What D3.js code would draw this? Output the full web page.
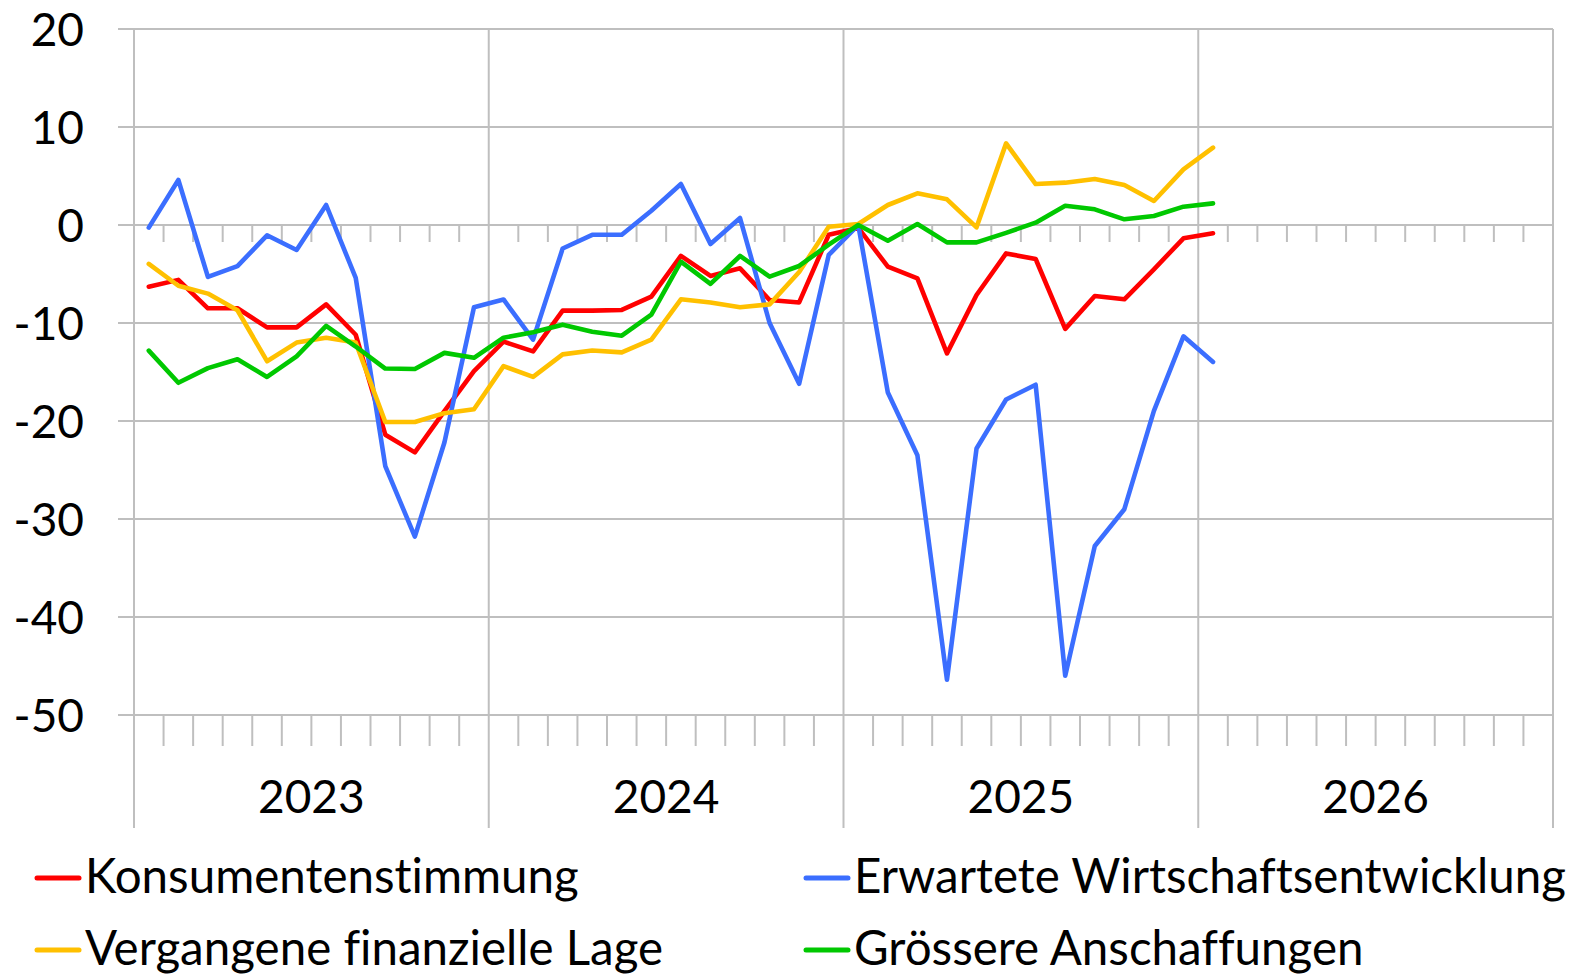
<!DOCTYPE html>
<html>
<head>
<meta charset="utf-8">
<script src="https://cdn.jsdelivr.net/npm/d3@7"></script>
<style>
    html, body { margin: 0; padding: 0; background: #fff; }
    svg { display: block; }
    text { font-family: Lato, "Open Sans", sans-serif; fill: #000; font-variant-ligatures: none; }
</style>
</head>
<body>
<svg id="chart" width="1570" height="976"></svg>
<script>
// Monate (Jan 2023 - Jan 2026)
const months = [
    "2023-01", "2023-02", "2023-03", "2023-04", "2023-05", "2023-06",
    "2023-07", "2023-08", "2023-09", "2023-10", "2023-11", "2023-12",
    "2024-01", "2024-02", "2024-03", "2024-04", "2024-05", "2024-06",
    "2024-07", "2024-08", "2024-09", "2024-10", "2024-11", "2024-12",
    "2025-01", "2025-02", "2025-03", "2025-04", "2025-05", "2025-06",
    "2025-07", "2025-08", "2025-09", "2025-10", "2025-11", "2025-12",
    "2026-01"
];
const years = ["2023", "2024", "2025", "2026"];
const yTicks = [20, 10, 0, -10, -20, -30, -40, -50];

const konsumentenstimmung = [
    -6.3, -5.6, -8.5, -8.5, -10.45, -10.45, -8.1, -11.2, -21.4, -23.2, -19.0, -14.9,
    -11.9, -12.9, -8.74, -8.74, -8.67, -7.3, -3.16, -5.2, -4.42, -7.65, -7.9, -1.0,
    -0.3, -4.25, -5.44, -13.1, -7.14, -2.9, -3.47, -10.6, -7.24, -7.58, -4.52, -1.36,
    -0.85
];
const wirtschaftsentwicklung = [
    -0.27, 4.6, -5.3, -4.2, -1.05, -2.55, 2.04, -5.4, -24.6, -31.8, -22.2, -8.4,
    -7.6, -11.7, -2.4, -1.0, -1.0, 1.46, 4.18, -1.94, 0.71, -10.0, -16.2, -3.06,
    0, -17.1, -23.5, -46.4, -22.8, -17.8, -16.3, -46.0, -32.75, -29.0, -18.96, -11.36,
    -13.97
];
const finanzielleLage = [
    -3.97, -6.2, -7.0, -8.7, -13.9, -12.0, -11.5, -12.0, -20.1, -20.1, -19.2, -18.8,
    -14.4, -15.5, -13.2, -12.8, -13.0, -11.7, -7.58, -7.9, -8.4, -8.1, -4.8, -0.17,
    0.1, 2.04, 3.23, 2.62, -0.24, 8.33, 4.18, 4.32, 4.69, 4.08, 2.45, 5.68,
    7.89
];
const anschaffungen = [
    -12.82, -16.1, -14.6, -13.7, -15.5, -13.4, -10.3, -12.4, -14.65, -14.7, -13.05, -13.55,
    -11.5, -10.95, -10.17, -10.9, -11.3, -9.15, -3.74, -6.0, -3.16, -5.27, -4.18, -2.0,
    0, -1.6, 0.1, -1.77, -1.77, -0.8, 0.24, 1.97, 1.6, 0.58, 0.92, 1.87,
    2.21
];

// Reihenfolge wie in Excel, letzte Reihe oben
const series = [
    { name: "Konsumentenstimmung", color: "#FF0000", values: konsumentenstimmung },
    { name: "Erwartete Wirtschaftsentwicklung", color: "#3B6EFF", values: wirtschaftsentwicklung },
    { name: "Vergangene finanzielle Lage", color: "#FFC000", values: finanzielleLage },
    { name: "Grössere Anschaffungen", color: "#00C800", values: anschaffungen }
];

const GRID_COLOR = "#BFBFBF";
const LEFT = 134, RIGHT = 1553, TOP = 29, BOTTOM = 715, AXIS_END = 828;
const FONT = 46;
const LEGEND_FONT = 47.5;
const LINE_WIDTH = 4.6;

let svg = d3.select("#chart");

let nMonths = years.length * 12;
let x = d3.scaleLinear().domain([0, nMonths]).range([LEFT, RIGHT]);
let y = d3.scaleLinear().domain([-50, 20]).range([BOTTOM, TOP]);

let grid = svg.append("g");

// horizontale Gitterlinien
grid.selectAll("line.h")
    .data(yTicks)
    .enter().append("line")
    .attr("x1", LEFT - 16)
    .attr("x2", RIGHT)
    .attr("y1", d => y(d))
    .attr("y2", d => y(d))
    .attr("stroke", GRID_COLOR)
    .attr("stroke-width", 2);

// Jahreslinien
grid.selectAll("line.v")
    .data(d3.range(years.length + 1))
    .enter().append("line")
    .attr("x1", d => x(d * 12))
    .attr("x2", d => x(d * 12))
    .attr("y1", TOP)
    .attr("y2", AXIS_END)
    .attr("stroke", GRID_COLOR)
    .attr("stroke-width", 2);

// Monatsstriche (an der Nulllinie und unten)
let monthTicks = d3.range(1, nMonths).filter(d => d % 12 !== 0);
grid.selectAll("line.t0")
    .data(monthTicks)
    .enter().append("line")
    .attr("x1", d => x(d))
    .attr("x2", d => x(d))
    .attr("y1", y(0))
    .attr("y2", y(0) + 17)
    .attr("stroke", GRID_COLOR)
    .attr("stroke-width", 2);
grid.selectAll("line.tb")
    .data(monthTicks)
    .enter().append("line")
    .attr("x1", d => x(d))
    .attr("x2", d => x(d))
    .attr("y1", BOTTOM)
    .attr("y2", BOTTOM + 31)
    .attr("stroke", GRID_COLOR)
    .attr("stroke-width", 2);

// y-Beschriftung
svg.append("g")
    .selectAll("text")
    .data(yTicks)
    .enter().append("text")
    .attr("x", 84)
    .attr("y", d => y(d))
    .attr("dy", "0.36em")
    .attr("text-anchor", "end")
    .style("font-size", `${FONT}px`)
    .text(d => d);

// Jahre
svg.append("g")
    .selectAll("text")
    .data(years)
    .enter().append("text")
    .attr("x", (d, i) => x(i * 12 + 6))
    .attr("y", 813)
    .attr("text-anchor", "middle")
    .style("font-size", `${FONT}px`)
    .text(d => d);

// Linien
let line = d3.line()
    .x((d, i) => x(i + 0.5))
    .y(d => y(d));

svg.append("g")
    .selectAll("path")
    .data(series)
    .enter().append("path")
    .attr("d", d => line(d.values))
    .attr("fill", "none")
    .attr("stroke", d => d.color)
    .attr("stroke-width", LINE_WIDTH)
    .attr("stroke-linejoin", "round")
    .attr("stroke-linecap", "round");

// Legende, 2 Spalten
let legendPos = [
    { lx: 37, ty: 893 },
    { lx: 806, ty: 893 },
    { lx: 37, ty: 965 },
    { lx: 806, ty: 965 }
];
let legend = svg.append("g")
    .selectAll("g")
    .data(series)
    .enter().append("g")
    .attr("transform", (d, i) => `translate(${legendPos[i].lx},${legendPos[i].ty})`);

legend.append("line")
    .attr("x1", 0)
    .attr("x2", 42)
    .attr("y1", -15)
    .attr("y2", -15)
    .attr("stroke", d => d.color)
    .attr("stroke-width", LINE_WIDTH + 0.4)
    .attr("stroke-linecap", "round");

legend.append("text")
    .attr("x", 48)
    .attr("y", 0)
    .style("font-size", `${LEGEND_FONT}px`)
    .text(d => d.name);
</script>
</body>
</html>
